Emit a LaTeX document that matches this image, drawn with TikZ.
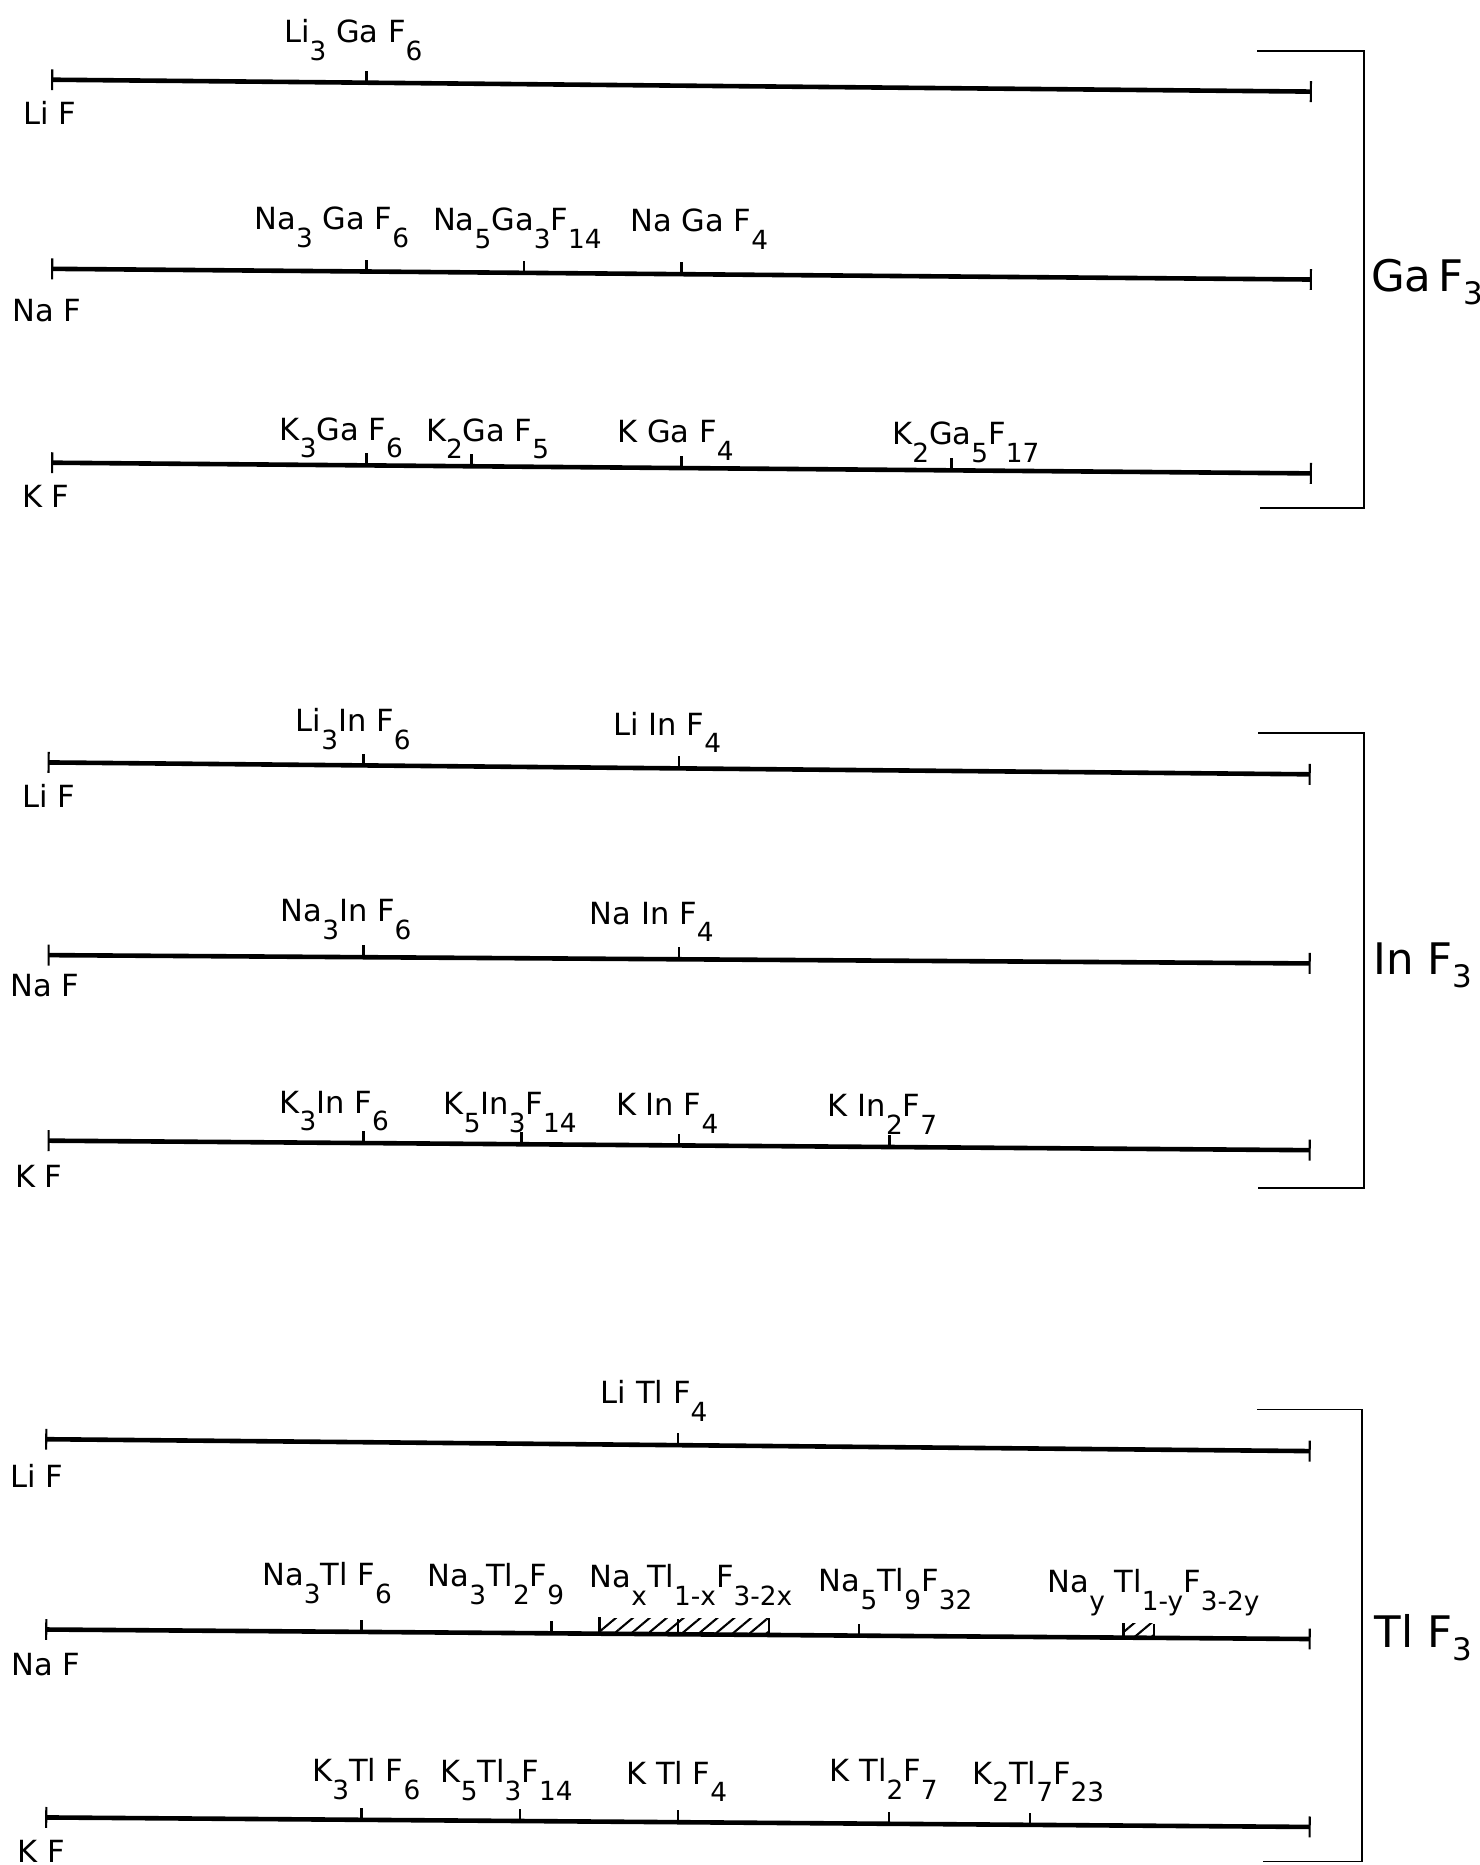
\documentclass[tikz,border=0pt]{standalone}
\usepackage{fontspec}
\setmainfont{DejaVu Sans}
\usetikzlibrary{arrows.meta,calc,patterns.meta}

\newcommand{\lo}[1]{\raisebox{-4.2pt}{\fontsize{6.3}{7}\selectfont #1}}
\newcommand{\glo}[1]{\raisebox{-3.1pt}{\fontsize{7.4}{8}\selectfont #1}}

\begin{document}
\begin{tikzpicture}[x=0.01cm, y=-0.01cm,
  axis/.style={line width=1.1pt, {Bar[width=5pt,line width=0.5pt]}-{Bar[width=5pt,line width=0.5pt]}},
  tick/.style={line width=0.6pt},
  brace/.style={line width=0.45pt},
  hatch/.style={pattern={Lines[angle=40,distance=2.6pt,line width=0.5pt]}},
  cmpd/.style={anchor=base, inner sep=0pt, font=\fontsize{7.3}{8}\selectfont},
  salt/.style={anchor=base west, inner sep=0pt, font=\fontsize{7.3}{8}\selectfont},
  grp/.style={anchor=base west, inner sep=0pt, font=\fontsize{10.4}{12}\selectfont}]
  \useasboundingbox (0,0) rectangle (1244,1568);

  % --- GaF3 ---
  \coordinate (gaLiL) at (43,67);  \coordinate (gaLiR) at (1103,77);
  \coordinate (gaNaL) at (43,226); \coordinate (gaNaR) at (1103,235);
  \coordinate (gaKL) at (43,389);  \coordinate (gaKR) at (1103,398);
  \draw[axis] (gaLiL) -- (gaLiR);
  \draw[axis] (gaNaL) -- (gaNaR);
  \draw[axis] (gaKL) -- (gaKR);
  \draw[tick] ($(gaLiL)!0.25!(gaLiR)$) coordinate (li3gaf6) -- ++(0,-10);
  \draw[tick] ($(gaNaL)!0.25!(gaNaR)$) coordinate (na3gaf6) -- ++(0,-10);
  \draw[tick] ($(gaNaL)!0.375!(gaNaR)$) coordinate (na5ga3f14) -- ++(0,-10);
  \draw[tick] ($(gaNaL)!0.5!(gaNaR)$) coordinate (nagaf4) -- ++(0,-10);
  \draw[tick] ($(gaKL)!0.25!(gaKR)$) coordinate (k3gaf6) -- ++(0,-10);
  \draw[tick] ($(gaKL)!0.3333!(gaKR)$) coordinate (k2gaf5) -- ++(0,-10);
  \draw[tick] ($(gaKL)!0.5!(gaKR)$) coordinate (kgaf4) -- ++(0,-10);
  \draw[tick] ($(gaKL)!0.714!(gaKR)$) coordinate (k2ga5f17) -- ++(0,-10);
  \node[salt] (gaLiF) at (19,105) {Li F};
  \node[salt] (gaNaF) at (10,270) {Na F};
  \node[salt] (gaKF) at (18,427) {K F};
  \node[cmpd] (li3gaf6t) at (297,36) {Li\lo{3} Ga F\lo{6}};
  \node[cmpd] (na3gaf6t) at (279,193) {Na\lo{3} Ga F\lo{6}};
  \node[cmpd] (na5ga3f14t) at (435,194) {Na\lo{5}Ga\lo{3}F\lo{14}};
  \node[cmpd] (nagaf4t) at (588,195) {Na Ga F\lo{4}};
  \node[cmpd] (k3gaf6t) at (287,370) {K\lo{3}Ga F\lo{6}};
  \node[cmpd] (k2gaf5t) at (410,371) {K\lo{2}Ga F\lo{5}};
  \node[cmpd] (kgaf4t) at (568,372) {K Ga F\lo{4}};
  \node[cmpd] (k2ga5f17t) at (812,374) {K\lo{2}Ga\lo{5}F\lo{17}};
  \coordinate (gaBrT) at (1057,43); \coordinate (gaBrB) at (1059,427);
  \draw[brace] (gaBrT) -- ++(90,0) |- (gaBrB);
  \node[grp] (gaf3) at (1152,245) {Ga\,F\glo{3}};

  % --- InF3 ---
  \coordinate (inLiL) at (40,641); \coordinate (inLiR) at (1102,651);
  \coordinate (inNaL) at (40,803); \coordinate (inNaR) at (1102,810);
  \coordinate (inKL) at (40,959);  \coordinate (inKR) at (1102,967);
  \draw[axis] (inLiL) -- (inLiR);
  \draw[axis] (inNaL) -- (inNaR);
  \draw[axis] (inKL) -- (inKR);
  \draw[tick] ($(inLiL)!0.25!(inLiR)$) coordinate (li3inf6) -- ++(0,-10);
  \draw[tick] ($(inLiL)!0.5!(inLiR)$) coordinate (liinf4) -- ++(0,-10);
  \draw[tick] ($(inNaL)!0.25!(inNaR)$) coordinate (na3inf6) -- ++(0,-10);
  \draw[tick] ($(inNaL)!0.5!(inNaR)$) coordinate (nainf4) -- ++(0,-10);
  \draw[tick] ($(inKL)!0.25!(inKR)$) coordinate (k3inf6) -- ++(0,-10);
  \draw[tick] ($(inKL)!0.375!(inKR)$) coordinate (k5in3f14) -- ++(0,-10);
  \draw[tick] ($(inKL)!0.5!(inKR)$) coordinate (kinf4) -- ++(0,-10);
  \draw[tick] ($(inKL)!0.6667!(inKR)$) coordinate (kin2f7) -- ++(0,-10);
  \node[salt] (inLiF) at (18,679) {Li F};
  \node[salt] (inNaF) at (8,838) {Na F};
  \node[salt] (inKF) at (12,998) {K F};
  \node[cmpd] (li3inf6t) at (297,615) {Li\lo{3}In F\lo{6}};
  \node[cmpd] (liinf4t) at (561,618) {Li In F\lo{4}};
  \node[cmpd] (na3inf6t) at (291,775) {Na\lo{3}In F\lo{6}};
  \node[cmpd] (nainf4t) at (548,777) {Na In F\lo{4}};
  \node[cmpd] (k3inf6t) at (281,936) {K\lo{3}In F\lo{6}};
  \node[cmpd] (k5in3f14t) at (429,937) {K\lo{5}In\lo{3}F\lo{14}};
  \node[cmpd] (kinf4t) at (561,938) {K In F\lo{4}};
  \node[cmpd] (kin2f7t) at (742,939) {K In\lo{2}F\lo{7}};
  \coordinate (inBrT) at (1058,616); \coordinate (inBrB) at (1058,999);
  \draw[brace] (inBrT) -- ++(89,0) |- (inBrB);
  \node[grp] (inf3) at (1154,819) {In F\glo{3}};

  % --- TlF3 ---
  \coordinate (tlLiL) at (38,1210); \coordinate (tlLiR) at (1102,1220);
  \coordinate (tlNaL) at (38,1370); \coordinate (tlNaR) at (1102,1378);
  \coordinate (tlKL) at (38,1528);  \coordinate (tlKR) at (1102,1536);
  % solid solution ranges
  \coordinate (hxA) at ($(tlNaL)!0.438!(tlNaR)$); \coordinate (hxB) at ($(tlNaL)!0.572!(tlNaR)$);
  \coordinate (hyA) at ($(tlNaL)!0.852!(tlNaR)$); \coordinate (hyB) at ($(tlNaL)!0.876!(tlNaR)$);
  \fill[hatch] (hxA) rectangle ($(hxB)+(0,-14)$);
  \fill[hatch] (hyA) rectangle ($(hyB)+(0,-12)$);
  \draw[tick] (hxA) -- ++(0,-14);
  \draw[tick] (hxB) -- ++(0,-14);
  \draw[tick] (hyA) -- ++(0,-12);
  \draw[tick] (hyB) -- ++(0,-12);
  \draw[axis] (tlLiL) -- (tlLiR);
  \draw[axis] (tlNaL) -- (tlNaR);
  \draw[axis] (tlKL) -- (tlKR);
  \draw[tick] ($(tlLiL)!0.5!(tlLiR)$) coordinate (litlf4) -- ++(0,-10);
  \draw[tick] ($(tlNaL)!0.25!(tlNaR)$) coordinate (na3tlf6) -- ++(0,-10);
  \draw[tick] ($(tlNaL)!0.4!(tlNaR)$) coordinate (na3tl2f9) -- ++(0,-10);
  \draw[tick] ($(tlNaL)!0.5!(tlNaR)$) coordinate (natlf4) -- ++(0,-13);
  \draw[tick] ($(tlNaL)!0.643!(tlNaR)$) coordinate (na5tl9f32) -- ++(0,-10);
  \draw[tick] ($(tlKL)!0.25!(tlKR)$) coordinate (k3tlf6) -- ++(0,-10);
  \draw[tick] ($(tlKL)!0.375!(tlKR)$) coordinate (k5tl3f14) -- ++(0,-10);
  \draw[tick] ($(tlKL)!0.5!(tlKR)$) coordinate (ktlf4) -- ++(0,-10);
  \draw[tick] ($(tlKL)!0.6667!(tlKR)$) coordinate (ktl2f7) -- ++(0,-10);
  \draw[tick] ($(tlKL)!0.778!(tlKR)$) coordinate (k2tl7f23) -- ++(0,-10);
  \node[salt] (tlLiF) at (8,1251) {Li F};
  \node[salt] (tlNaF) at (9,1409) {Na F};
  \node[salt] (tlKF) at (14,1566) {K F};
  \node[cmpd] (litlf4t) at (550,1180) {Li Tl F\lo{4}};
  \node[cmpd] (na3tlf6t) at (275,1333) {Na\lo{3}Tl F\lo{6}};
  \node[cmpd] (na3tl2f9t) at (417,1334) {Na\lo{3}Tl\lo{2}F\lo{9}};
  \node[cmpd] (naxtlt) at (581,1335) {Na\lo{x}Tl\lo{1-x}F\lo{3-2x}};
  \node[cmpd] (na5tl9f32t) at (753,1338) {Na\lo{5}Tl\lo{9}F\lo{32}};
  \node[cmpd] (naytlt) at (970,1339) {Na\lo{y} Tl\lo{1-y}F\lo{3-2y}};
  \node[cmpd] (k3tlf6t) at (308,1498) {K\lo{3}Tl F\lo{6}};
  \node[cmpd] (k5tl3f14t) at (426,1499) {K\lo{5}Tl\lo{3}F\lo{14}};
  \node[cmpd] (ktlf4t) at (569,1500) {K Tl F\lo{4}};
  \node[cmpd] (ktl2f7t) at (743,1498) {K Tl\lo{2}F\lo{7}};
  \node[cmpd] (k2tl7f23t) at (873,1500) {K\lo{2}Tl\lo{7}F\lo{23}};
  \coordinate (tlBrT) at (1057,1185); \coordinate (tlBrB) at (1062,1565);
  \draw[brace] (tlBrT) -- ++(88,0) |- (tlBrB);
  \node[grp] (tlf3) at (1155,1385) {Tl F\glo{3}};
\end{tikzpicture}
\end{document}
